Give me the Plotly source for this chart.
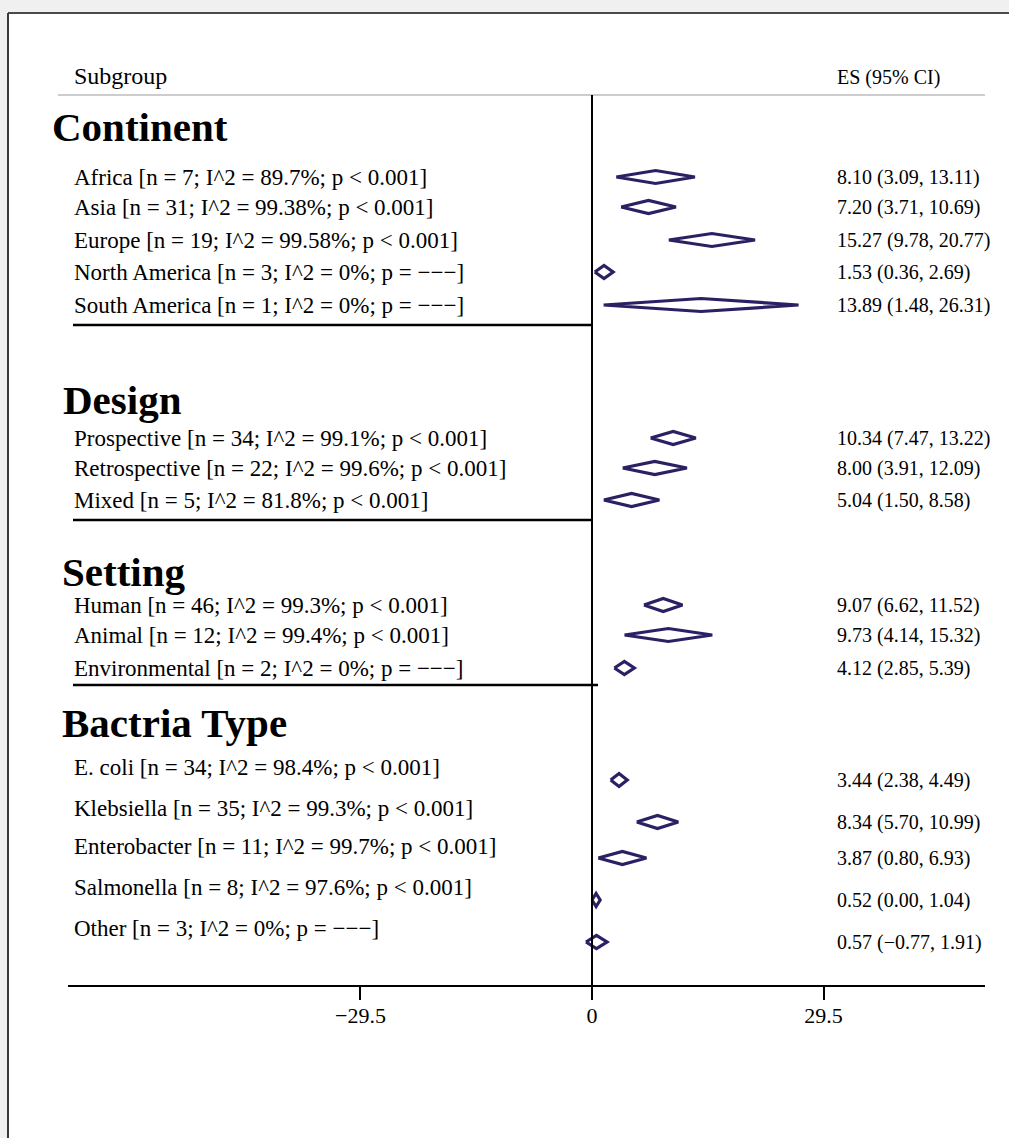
import plotly.graph_objects as go

# ---- data -------------------------------------------------------------
group_titles = ["Continent", "Design", "Setting", "Bactria Type"]

subgroups = ["Africa", "Asia", "Europe", "North America", "South America",
             "Prospective", "Retrospective", "Mixed",
             "Human", "Animal", "Environmental",
             "E. coli", "Klebsiella", "Enterobacter", "Salmonella", "Other"]
n_studies = [7, 31, 19, 3, 1,
             34, 22, 5,
             46, 12, 2,
             34, 35, 11, 8, 3]
i_squared = [89.7, 99.38, 99.58, 0, 0,
             99.1, 99.6, 81.8,
             99.3, 99.4, 0,
             98.4, 99.3, 99.7, 97.6, 0]
p_text = ["< 0.001", "< 0.001", "< 0.001", "= −−−", "= −−−",
          "< 0.001", "< 0.001", "< 0.001",
          "< 0.001", "< 0.001", "= −−−",
          "< 0.001", "< 0.001", "< 0.001", "< 0.001", "= −−−"]
es = [8.10, 7.20, 15.27, 1.53, 13.89,
      10.34, 8.00, 5.04,
      9.07, 9.73, 4.12,
      3.44, 8.34, 3.87, 0.52, 0.57]
ci_low = [3.09, 3.71, 9.78, 0.36, 1.48,
          7.47, 3.91, 1.50,
          6.62, 4.14, 2.85,
          2.38, 5.70, 0.80, 0.00, -0.77]
ci_high = [13.11, 10.69, 20.77, 2.69, 26.31,
           13.22, 12.09, 8.58,
           11.52, 15.32, 5.39,
           4.49, 10.99, 6.93, 1.04, 1.91]
x_ticks = [-29.5, 0, 29.5]

# ---- layout (pixel geometry of the page) -------------------------------
W, H = 1009, 1138
PL, PR = 68, 985          # plot area left / right (px)
PB = 985                  # plot area bottom (px), y-axis runs in px units
X0_PX, PX_PER_UNIT = 592, 7.85
TEXT_PAD = 3              # annotation box padding

label_y = [177, 207, 240, 272, 305, 438, 468, 500, 605, 635, 668,
           767, 808, 846, 887, 928]
mark_y = [177, 207, 240, 272, 305, 438, 468, 500, 605, 635, 668,
          780, 822, 858, 900, 942]
title_pos = [(53, 127), (64, 400), (63, 572), (63, 723)]
separator_y = [(325, 593), (520, 593), (685, 598)]

SERIF = "Liberation Serif, Times New Roman, serif"
NAVY = "#2a2164"
DIAMOND_HALF = 6.5


def px_to_paper_x(px):
    return (px - PL) / (PR - PL)


def text_x(px):
    return px_to_paper_x(px - TEXT_PAD)


def px_to_paper_y(py):
    return (PB - py) / PB


def fmt(v):
    return f"{v:.2f}".replace("-", "−")


x_range = [(PL - X0_PX) / PX_PER_UNIT, (PR - X0_PX) / PX_PER_UNIT]

# ---- diamonds ----------------------------------------------------------
dx, dy = [], []
for lo, mid, hi, y in zip(ci_low, es, ci_high, mark_y):
    dx += [lo, mid, hi, mid, lo, None]
    dy += [y, y - DIAMOND_HALF, y, y + DIAMOND_HALF, y, None]

fig = go.Figure()
fig.add_trace(go.Scatter(x=dx, y=dy, mode="lines",
                         line=dict(color=NAVY, width=3.2),
                         hoverinfo="skip", showlegend=False))

shapes = [
    # grey margin strips around the white panel
    dict(type="rect", xref="paper", yref="paper",
         x0=px_to_paper_x(0), x1=px_to_paper_x(W),
         y0=px_to_paper_y(13), y1=px_to_paper_y(0),
         fillcolor="#f0f0f0", line=dict(width=0), layer="below"),
    dict(type="rect", xref="paper", yref="paper",
         x0=px_to_paper_x(0), x1=px_to_paper_x(8),
         y0=px_to_paper_y(H), y1=px_to_paper_y(0),
         fillcolor="#f0f0f0", line=dict(width=0), layer="below"),
    # panel frame (top and left edges)
    dict(type="line", xref="paper", yref="paper",
         x0=px_to_paper_x(8), x1=px_to_paper_x(W + 5),
         y0=px_to_paper_y(13), y1=px_to_paper_y(13),
         line=dict(color="#4a4a4a", width=2)),
    dict(type="line", xref="paper", yref="paper",
         x0=px_to_paper_x(8), x1=px_to_paper_x(8),
         y0=px_to_paper_y(13), y1=px_to_paper_y(H + 5),
         line=dict(color="#3a3a3a", width=2)),
    # header rule
    dict(type="line", xref="paper", yref="y",
         x0=px_to_paper_x(58), x1=px_to_paper_x(985), y0=95, y1=95,
         line=dict(color="#bdbdbd", width=1.5)),
    # null line
    dict(type="line", xref="x", yref="y", x0=0, x1=0, y0=95, y1=PB,
         line=dict(color="black", width=2)),
]
for y, xend in separator_y:
    shapes.append(dict(type="line", xref="paper", yref="y",
                       x0=px_to_paper_x(73), x1=px_to_paper_x(xend), y0=y, y1=y,
                       line=dict(color="black", width=2.5)))

annotations = [
    dict(text="Subgroup", x=text_x(75), y=76, xref="paper", yref="y",
         xanchor="left", yanchor="middle", showarrow=False,
         font=dict(family=SERIF, size=24, color="black")),
    dict(text="ES (95% CI)", x=text_x(838), y=77, xref="paper", yref="y",
         xanchor="left", yanchor="middle", showarrow=False,
         font=dict(family=SERIF, size=20, color="black")),
]
for title, (tx, ty) in zip(group_titles, title_pos):
    annotations.append(dict(text=f"<b>{title}</b>", x=text_x(tx), y=ty,
                            xref="paper", yref="y", xanchor="left", yanchor="middle",
                            showarrow=False,
                            font=dict(family=SERIF, size=41, color="black")))

for name, n, i2, p, ly, my, e, lo, hi in zip(subgroups, n_studies, i_squared, p_text,
                                              label_y, mark_y, es, ci_low, ci_high):
    left = f"{name} [n = {n}; I^2 = {i2:g}%; p {p.replace('<', '&lt;')}]"
    annotations.append(dict(text=left, x=text_x(75), y=ly,
                            xref="paper", yref="y", xanchor="left", yanchor="middle",
                            showarrow=False,
                            font=dict(family=SERIF, size=23, color="black")))
    right = f"{fmt(e)} ({fmt(lo)}, {fmt(hi)})"
    annotations.append(dict(text=right, x=text_x(838), y=my,
                            xref="paper", yref="y", xanchor="left", yanchor="middle",
                            showarrow=False,
                            font=dict(family=SERIF, size=20, color="black")))

fig.update_layout(
    width=W, height=H,
    margin=dict(l=PL, r=W - PR, t=0, b=H - PB, pad=0),
    paper_bgcolor="white",
    plot_bgcolor="rgba(0,0,0,0)",
    showlegend=False,
    hovermode=False,
    shapes=shapes,
    annotations=annotations,
    xaxis=dict(range=x_range, showgrid=False, zeroline=False,
               showline=True, linecolor="black", linewidth=2,
               ticks="outside", ticklen=13, tickwidth=2, tickcolor="black",
               tickvals=x_ticks,
               ticktext=[("−" + f"{abs(t):g}") if t < 0 else f"{t:g}" for t in x_ticks],
               tickfont=dict(family=SERIF, size=22, color="black"),
               ticklabelstandoff=-3,
               fixedrange=True),
    yaxis=dict(range=[PB, 0], visible=False, fixedrange=True),
)

fig.write_html("out.html", config={"displayModeBar": False})
